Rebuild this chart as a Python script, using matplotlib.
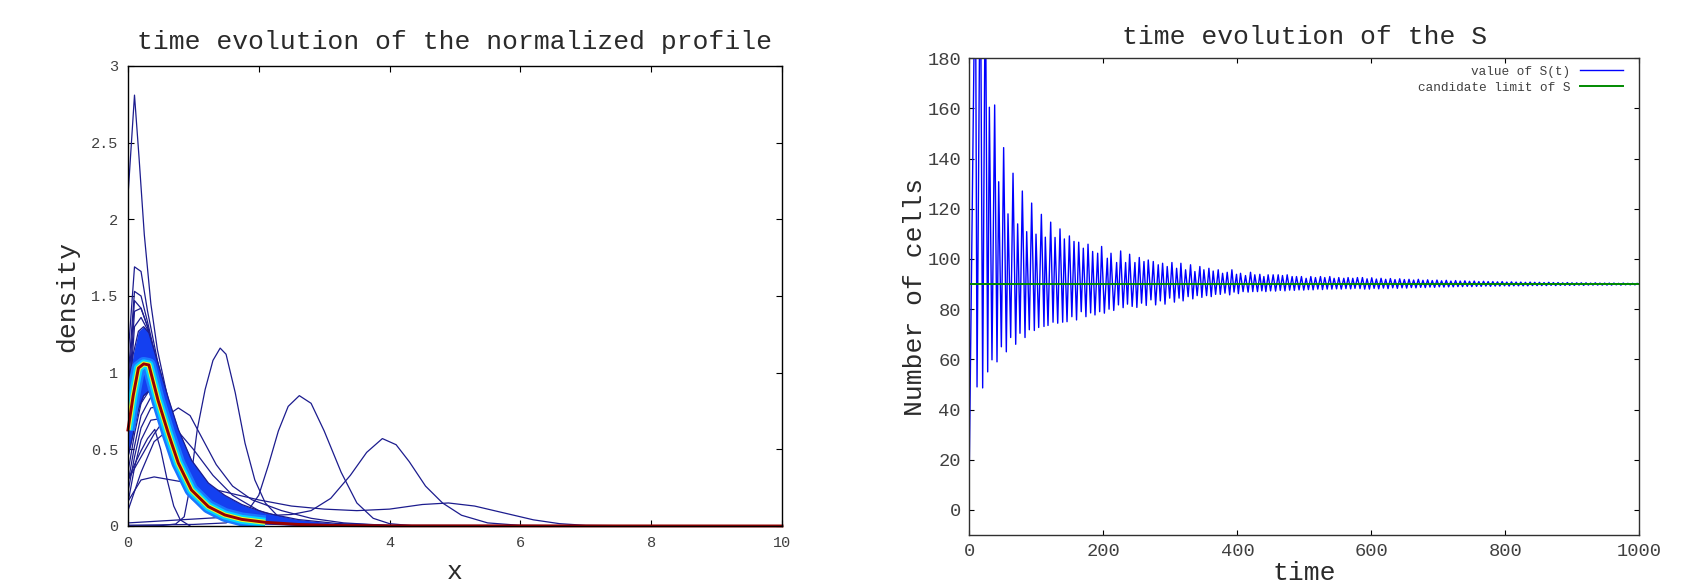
import matplotlib
matplotlib.use('Agg')
import matplotlib.pyplot as plt

plt.rcParams['font.family'] = ['Liberation Mono', 'DejaVu Sans Mono']

# ---- left panel: profiles ----
# early transient profiles (drawn in navy)
spike_x = [0, 0.1, 0.17, 0.25, 0.35, 0.45, 0.6, 0.8, 1.0, 1.3, 1.6, 2.0]
spike_y = [2.15, 2.81, 2.4, 1.9, 1.45, 1.15, 0.85, 0.52, 0.3, 0.12, 0.04, 0.01]

early_x = [0, 0.1, 0.2, 0.3, 0.45, 0.6, 0.8, 1.0, 1.3, 1.7, 2.2, 3.0]
peak169 = [1.1, 1.69, 1.66, 1.4, 1.08, 0.82, 0.56, 0.37, 0.19, 0.07, 0.02, 0.0]
peak153 = [0.95, 1.53, 1.5, 1.33, 1.05, 0.8, 0.55, 0.37, 0.2, 0.08, 0.025, 0.0]
peak147 = [0.85, 1.47, 1.42, 1.3, 1.04, 0.8, 0.56, 0.38, 0.2, 0.08, 0.025, 0.0]
peak142 = [0.75, 1.40, 1.42, 1.3, 1.06, 0.82, 0.57, 0.39, 0.21, 0.085, 0.027, 0.0]
peak136 = [0.7, 1.3, 1.36, 1.28, 1.05, 0.82, 0.58, 0.4, 0.22, 0.09, 0.03, 0.0]

low_x = [0, 0.1, 0.2, 0.35, 0.5, 0.7, 0.9, 1.1, 1.4, 1.8, 2.3, 3.0]
low090 = [0.35, 0.6, 0.8, 0.9, 0.86, 0.66, 0.45, 0.29, 0.14, 0.05, 0.015, 0.0]
low084 = [0.28, 0.52, 0.72, 0.84, 0.82, 0.65, 0.45, 0.3, 0.15, 0.055, 0.015, 0.0]
low078 = [0.22, 0.45, 0.64, 0.77, 0.78, 0.64, 0.46, 0.31, 0.16, 0.06, 0.02, 0.0]
low070 = [0.15, 0.38, 0.56, 0.69, 0.70, 0.6, 0.46, 0.32, 0.17, 0.065, 0.02, 0.0]

narrow_x = [0, 0.1, 0.2, 0.3, 0.41, 0.5, 0.6, 0.7, 0.8, 0.95]
narrow_y = [0.3, 0.4, 0.49, 0.57, 0.63, 0.5, 0.3, 0.13, 0.04, 0.0]

fan_x = [0, 0.2, 0.4, 0.6, 0.8, 1.0, 1.3, 1.6, 2.0, 2.5, 3.0]
fan_y = [0.1, 0.35, 0.55, 0.62, 0.6, 0.5, 0.33, 0.2, 0.1, 0.04, 0.01]

broad_x = [0, 0.2, 0.4, 0.6, 0.77, 0.95, 1.1, 1.35, 1.6, 1.9, 2.35, 2.8, 3.3, 4.0]
broad_y = [0.3, 0.45, 0.6, 0.72, 0.77, 0.72, 0.6, 0.4, 0.26, 0.17, 0.1, 0.05, 0.02, 0.003]

bimodal_x = [0, 0.2, 0.4, 0.8, 1.2, 1.6, 2.0, 2.5, 3.0, 3.5, 4.0, 4.5, 4.9, 5.3, 5.8, 6.2, 6.6, 7.0, 8.0]
bimodal_y = [0.16, 0.3, 0.32, 0.29, 0.25, 0.21, 0.17, 0.13, 0.11, 0.10, 0.11, 0.14, 0.15, 0.13, 0.08, 0.04, 0.015, 0.004, 0.0]

gauss1_x = [0, 0.5, 0.73, 0.86, 0.94, 1.06, 1.18, 1.3, 1.41, 1.5, 1.64, 1.79, 1.94, 2.1, 2.3, 2.6, 3.0]
gauss1_y = [0, 0.002, 0.013, 0.06, 0.235, 0.63, 0.89, 1.08, 1.16, 1.12, 0.87, 0.54, 0.30, 0.15, 0.06, 0.015, 0]

gauss2_x = [0, 1.0, 1.5, 1.8, 2.0, 2.15, 2.3, 2.45, 2.62, 2.8, 3.0, 3.26, 3.5, 3.75, 4.0, 4.4]
gauss2_y = [0.005, 0.01, 0.02, 0.08, 0.2, 0.4, 0.62, 0.78, 0.85, 0.8, 0.62, 0.35, 0.15, 0.05, 0.015, 0.0]

far_x = [0, 1.0, 1.6, 2.0, 2.5, 2.8, 3.1, 3.4, 3.65, 3.89, 4.1, 4.3, 4.55, 4.81, 5.1, 5.5, 6.0, 7.0]
far_y = [0.02, 0.045, 0.06, 0.065, 0.075, 0.1, 0.18, 0.33, 0.48, 0.57, 0.53, 0.42, 0.26, 0.15, 0.07, 0.02, 0.004, 0.0]

# late profiles: envelope of the converging band and the final profile
band_x = [0, 0.08, 0.16, 0.24, 0.32, 0.46, 0.62, 0.77, 0.97, 1.23, 1.48, 1.74, 2.1, 2.6, 3.2, 4.0, 10]
band_hi = [0.88, 1.12, 1.27, 1.30, 1.26, 1.06, 0.83, 0.63, 0.43, 0.28, 0.2, 0.14, 0.085, 0.042, 0.016, 0.004, 0.0]
band_lo = [0.45, 0.6, 0.76, 0.85, 0.88, 0.72, 0.52, 0.34, 0.18, 0.09, 0.048, 0.026, 0.013, 0.005, 0.001, 0.0, 0.0]
final_prof = [0.626, 0.85, 1.03, 1.057, 1.05, 0.82, 0.60, 0.41, 0.235, 0.126, 0.072, 0.043, 0.024, 0.01, 0.003, 0.001, 0.0]

# ---- right panel: S(t), zigzag vertices ----
s_time_early = [0, 9, 11.5, 16.4, 19.9, 23.9, 27.4, 29.9, 33.8, 37.8,
                41.3, 43.8, 47.8, 51.2, 55.2, 57.7, 61.7, 65.2, 69.2, 72.1,
                75.6, 79.1, 83.1, 85.6, 89.5, 93, 97, 99.5, 103.5, 107.5,
                111.4, 113.4, 117.4, 121.4, 124.9, 127.9, 131.9, 135.3, 139.3, 141.8,
                145.8, 149.3, 153, 156.2, 160, 163.2, 167, 170.1, 174, 177.1,
                181, 184, 187.5, 191.5, 194.5, 197.4, 201.5, 205.9, 208.5, 211.4,
                215.5, 219.8, 222.5, 225.8, 229.5, 233.2, 236, 239.2, 243, 247.1,
                250, 253.6, 257, 260.6, 264, 267, 271, 274.5, 278, 281.9,
                285, 288.4, 292, 295.3, 299, 302.3, 306, 309.3, 313, 315.7,
                319, 322.7, 326.5, 330.1, 333.5, 336.6, 340, 344, 347, 350,
                354, 357.5, 361, 363.9, 367.5, 371.4, 374.5, 377.9, 381.5, 384.8,
                388.5, 391.8, 395, 398.7, 401.5, 404.7, 408.5, 412.1, 416, 419.6,
                423, 426, 430, 433.5, 436.5, 439.5, 442.5, 445.9, 449.5, 453.4,
                457, 460.9, 464, 467.3, 471, 474.3, 478, 481.7, 485, 488.2,
                492, 495.6, 499, 502.6, 506, 509.6, 513, 516.5, 520, 524,
                527, 530.4, 534, 537.9, 541, 544.3, 548, 551.3, 555, 558.8,
                562, 565.2, 569, 572.2, 575.5, 579.1, 583, 586.6]
s_value_early = [18, 230, 49, 230, 48.6, 220, 55, 160.5, 59.8, 161.4,
                 59, 130.8, 65, 144.4, 63, 118, 68.7, 134.2, 66, 114,
                 70.4, 127.1, 68.7, 110.9, 71.8, 122.3, 71.5, 109.9, 72.7, 117.8,
                 73.1, 108.7, 73.5, 114.7, 74.8, 108.6, 74.4, 112, 74.8, 108,
                 75, 109.2, 77, 107, 75.7, 106.7, 79, 104.3, 77, 105.9,
                 78.5, 103, 77.7, 102.3, 79, 105, 78.4, 100.3, 80, 102.3,
                 79.5, 98.6, 81.7, 103.2, 80.6, 98.6, 82, 101.9, 81.1, 98.6,
                 80.7, 100.6, 82.4, 99, 81.5, 99.6, 83.7, 99, 81.7, 97.7,
                 83.3, 98.3, 82, 97, 84.4, 98.6, 82.8, 96.3, 84.4, 98.3,
                 83.3, 95.7, 85, 97.7, 84.1, 95, 85.4, 97, 84.7, 95.7,
                 85.4, 96.3, 85, 95.2, 85.9, 95.7, 85.9, 94.3, 86.4, 94.7,
                 85.7, 95.7, 86.8, 93.9, 86.2, 94.3, 87, 93.4, 86.8, 94.7,
                 87, 93.7, 87, 93.9, 87.3, 93, 87, 93.7, 87.3, 93.7,
                 87.2, 93.7, 87.5, 93.4, 87.3, 93.7, 87.6, 93, 87.5, 93,
                 87.7, 93, 87.6, 92.3, 87.8, 93, 87.7, 92.6, 88, 93,
                 87.8, 92.6, 88, 93, 88, 92.3, 88.1, 92.6, 88, 92.3,
                 88.2, 92.6, 88.1, 92.3, 88.3, 92.6, 88.2, 92.6]

s_time_late = [590, 593.5, 597, 600.5, 604, 607.4, 610.9, 614.4, 617.9, 621.3,
               624.8, 628.3, 631.8, 635.2, 638.7, 642.2, 645.7, 649.1, 652.6, 656.1,
               659.6, 663, 666.5, 670, 673.5, 676.9, 680.4, 683.9, 687.4, 690.8,
               694.3, 697.8, 701.3, 704.7, 708.2, 711.7, 715.2, 718.6, 722.1, 725.6,
               729.1, 732.5, 736, 739.5, 743, 746.4, 749.9, 753.4, 756.9, 760.3,
               763.8, 767.3, 770.8, 774.2, 777.7, 781.2, 784.7, 788.1, 791.6, 795.1,
               798.6, 802, 805.5, 809, 812.5, 815.9, 819.4, 822.9, 826.4, 829.8,
               833.3, 836.8, 840.3, 843.7, 847.2, 850.7, 854.2, 857.6, 861.1, 864.6,
               868.1, 871.5, 875, 878.5, 882, 885.4, 888.9, 892.4, 895.9, 899.3,
               902.8, 906.3, 909.8, 913.2, 916.7, 920.2, 923.7, 927.1, 930.6, 934.1,
               937.6, 941, 944.5, 948, 951.5, 954.9, 958.4, 961.9, 965.4, 968.8,
               972.3, 975.8, 979.3, 982.7, 986.2, 989.7, 993.2, 996.6, 1000]
s_value_late = [88.0, 92.1, 88.0, 92.5, 88.3, 92.0, 88.1, 92.3, 88.4, 91.9,
                88.2, 92.2, 88.5, 91.8, 88.3, 92.1, 88.5, 91.8, 88.4, 91.9,
                88.6, 91.6, 88.5, 91.9, 88.7, 91.5, 88.6, 91.7, 88.8, 91.4,
                88.7, 91.6, 88.9, 91.3, 88.8, 91.5, 88.9, 91.2, 88.9, 91.4,
                89.0, 91.2, 89.0, 91.3, 89.1, 91.1, 89.0, 91.2, 89.1, 91.0,
                89.1, 91.1, 89.2, 91.0, 89.1, 91.0, 89.2, 90.9, 89.2, 91.0,
                89.3, 90.8, 89.2, 90.9, 89.3, 90.8, 89.3, 90.8, 89.3, 90.7,
                89.3, 90.8, 89.4, 90.7, 89.4, 90.7, 89.4, 90.6, 89.4, 90.7,
                89.5, 90.6, 89.4, 90.6, 89.5, 90.5, 89.5, 90.6, 89.5, 90.5,
                89.5, 90.5, 89.6, 90.5, 89.5, 90.5, 89.6, 90.4, 89.6, 90.5,
                89.6, 90.4, 89.6, 90.4, 89.6, 90.4, 89.6, 90.4, 89.7, 90.3,
                89.6, 90.4, 89.7, 90.3, 89.7, 90.3, 89.7, 90.3, 89.8]

s_limit = 90.0

navy = '#1c1c8e'
grey = '#404040'
dark = '#2a2a2a'

fig = plt.figure(figsize=(16.97, 5.85), dpi=100)
ax1 = fig.add_axes([0.0754, 0.1009, 0.3854, 0.7863])
ax2 = fig.add_axes([0.5712, 0.0856, 0.3949, 0.8147])

# left: early navy profiles
early_curves = [
    (spike_x, spike_y), (early_x, peak169), (early_x, peak153), (early_x, peak147),
    (early_x, peak142), (early_x, peak136), (low_x, low090), (low_x, low084),
    (low_x, low078), (low_x, low070), (narrow_x, narrow_y), (fan_x, fan_y),
    (broad_x, broad_y), (bimodal_x, bimodal_y), (gauss1_x, gauss1_y),
    (gauss2_x, gauss2_y), (far_x, far_y),
]
for xs, ys in early_curves:
    ax1.plot(xs, ys, color=navy, lw=0.9, zorder=2)

# converging band
ax1.fill_between(band_x, band_lo, band_hi, color='#1440f0', lw=0, zorder=3)
ax1.plot(band_x, band_hi, color=navy, lw=0.9, zorder=3)
ax1.plot(band_x, band_lo, color=navy, lw=0.9, zorder=3)
ax1.plot(band_x[:13], final_prof[:13], color='#1a78ff', lw=10, zorder=4, solid_capstyle='butt')
ax1.plot(band_x[:13], final_prof[:13], color='#00d4ff', lw=6.5, zorder=5, solid_capstyle='butt')
ax1.plot(band_x[:13], final_prof[:13], color='#e6ff2a', lw=3.6, zorder=6, solid_capstyle='butt')
ax1.plot(band_x, final_prof, color='#9a0000', lw=2.1, zorder=7, clip_on=False)

ax1.set_xlim(0, 10)
ax1.set_ylim(0, 3)
ax1.set_xticks([0, 2, 4, 6, 8, 10])
ax1.set_yticks([0, 0.5, 1, 1.5, 2, 2.5, 3])
ax1.set_yticklabels(['0', '0.5', '1', '1.5', '2', '2.5', '3'])
ax1.tick_params(direction='in', length=4.5, width=0.8, top=True, right=True,
                labelsize=11, labelcolor=grey, pad=7)
ax1.set_title('time evolution of the normalized profile', fontsize=19, pad=12.5, color=dark)
ax1.set_xlabel('x', fontsize=19, labelpad=7.5, color=dark)
ax1.set_ylabel('density', fontsize=19, labelpad=8.5, color=dark)
for sp in ax1.spines.values():
    sp.set_linewidth(1.0)
    sp.set_zorder(8)

# right: S(t)
s_time = s_time_early + s_time_late
s_value = s_value_early + s_value_late
ax2.plot(s_time, s_value, color='#0000ff', lw=1.0, label='value of S(t)')
ax2.axhline(s_limit, color='#008a00', lw=1.4, label='candidate limit of S')
ax2.set_xlim(0, 1000)
ax2.set_ylim(-10, 180)
ax2.set_xticks([0, 200, 400, 600, 800, 1000])
ax2.set_yticks(list(range(0, 181, 20)))
ax2.tick_params(direction='in', length=3.5, width=0.8, top=True, right=True,
                labelsize=13.5, labelcolor=grey, pad=6)
ax2.set_title('time evolution of the S', fontsize=19, pad=10.5, color=dark)
ax2.set_xlabel('time', fontsize=19, labelpad=0.5, color=dark)
ax2.set_ylabel('Number of cells', fontsize=19, labelpad=0.5, color=dark)
for sp in ax2.spines.values():
    sp.set_linewidth(1.0)
    sp.set_color('#303030')
leg = ax2.legend(loc='upper right', bbox_to_anchor=(0.990, 1.006), frameon=False,
                 markerfirst=False, fontsize=9.2, handlelength=3.3, borderaxespad=0.4,
                 labelspacing=0.3, handletextpad=0.8)
for t in leg.get_texts():
    t.set_color(grey)

fig.savefig('out.png', dpi=100)
